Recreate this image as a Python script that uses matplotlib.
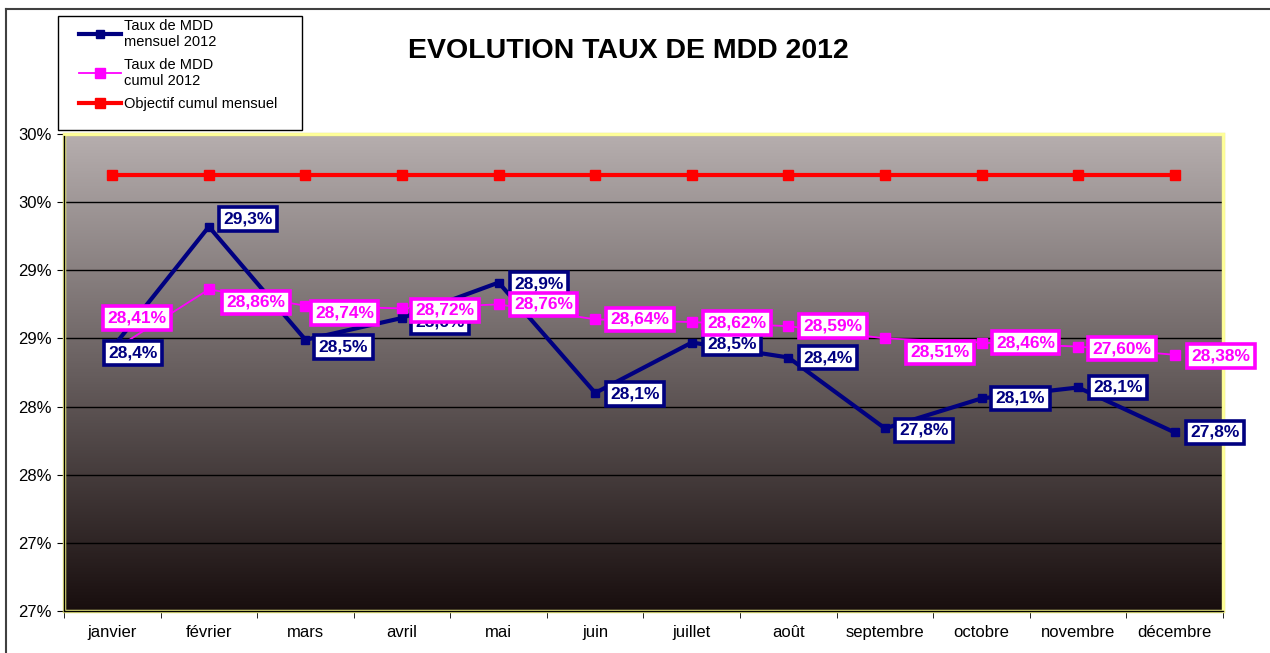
import numpy as np
import matplotlib
matplotlib.use("Agg")
import matplotlib.pyplot as plt
from matplotlib.lines import Line2D
from matplotlib.patches import Rectangle

plt.rcParams['font.family'] = ['Liberation Sans', 'DejaVu Sans']

months = ['janvier', 'février', 'mars', 'avril', 'mai', 'juin', 'juillet',
          'août', 'septembre', 'octobre', 'novembre', 'décembre']

# valeurs (en %)
mensuel = [28.43, 29.32, 28.49, 28.65, 28.91, 28.10, 28.47, 28.36, 27.84, 28.06, 28.14, 27.81]
mensuel_labels = ['28,4%', '29,3%', '28,5%', '28,6%', '28,9%', '28,1%', '28,5%', '28,4%',
                  '27,8%', '28,1%', '28,1%', '27,8%']
cumul = [28.41, 28.86, 28.74, 28.72, 28.75, 28.64, 28.62, 28.59, 28.50, 28.47, 28.44, 28.38]
cumul_labels = ['28,41%', '28,86%', '28,74%', '28,72%', '28,76%', '28,64%', '28,62%', '28,59%',
                '28,51%', '28,46%', '27,60%', '28,38%']
objectif = [29.7] * 12

yticks = [26.5, 27.0, 27.5, 28.0, 28.5, 29.0, 29.5, 30.0]
ytick_labels = ['27%', '27%', '28%', '28%', '29%', '29%', '30%', '30%']

# decalage des etiquettes (pixels, vers la droite / vers le bas)
off_mensuel = [(21, 5), (39, -8), (38, 7), (38, 4), (40, 1), (40, 1), (40, 1), (40, 0),
               (39, 2), (39, 0), (40, 0), (40, 0)]
off_cumul = [(25, -33), (47, 13), (39, 7), (43, 2), (45, 0), (45, 0), (45, 1), (45, 0),
             (55, 14), (44, 0), (44, 2), (46, 1)]

navy = '#000080'
pink = '#ff00ff'
red = '#ff0000'

W, H = 1270, 653
fig = plt.figure(figsize=(W / 100, H / 100), dpi=100)
ax = fig.add_axes([64 / W, (H - 611) / H, (1223 - 64) / W, (611 - 134) / H])

x = np.arange(len(months))
ax.set_xlim(-0.5, 11.5)
ax.set_ylim(26.5, 30.0)

# fond en degrade (clair en haut, sombre en bas)
top = np.array([182, 174, 174]) / 255
bot = np.array([24, 14, 14]) / 255
t = np.linspace(0, 1, 256)[:, None]
grad = (top * (1 - t) + bot * t)[:, None, :]
ax.imshow(grad, extent=[-0.5, 11.5, 26.5, 30.0], aspect='auto', zorder=0)

for yv in yticks[1:]:
    ax.axhline(yv, color='black', lw=1, zorder=1)

ax.plot(x, objectif, color=red, lw=3, marker='s', ms=6.5, zorder=3)
l1, = ax.plot(x, mensuel, color=navy, lw=3, marker='s', ms=6, zorder=3)
l2, = ax.plot(x, cumul, color=pink, lw=1.3, marker='s', ms=6.5, zorder=4)

for i in range(len(months)):
    dx, dy = off_mensuel[i]
    ax.annotate(mensuel_labels[i], (x[i], mensuel[i]), xytext=(dx * 0.72, -dy * 0.72),
                textcoords='offset points', ha='center', va='center', fontsize=12.5,
                fontweight='bold', color=navy, zorder=5, annotation_clip=False,
                bbox=dict(boxstyle='square,pad=0.25', fc='white', ec=navy, lw=2.6))
for i in range(len(months)):
    dx, dy = off_cumul[i]
    ax.annotate(cumul_labels[i], (x[i], cumul[i]), xytext=(dx * 0.72, -dy * 0.72),
                textcoords='offset points', ha='center', va='center', fontsize=12.5,
                fontweight='bold', color=pink, zorder=6, annotation_clip=False,
                bbox=dict(boxstyle='square,pad=0.25', fc='white', ec=pink, lw=2.6))

ax.set_yticks(yticks)
ax.set_yticklabels(ytick_labels, fontsize=12)
ax.set_xticks(x)
ax.set_xticklabels(months, fontsize=12)
ax.set_xticks(np.arange(-0.5, 12, 1), minor=True)
ax.tick_params(axis='x', which='major', length=0, pad=10)
ax.tick_params(axis='x', which='minor', length=5, direction='out', color='black')
ax.tick_params(axis='y', length=5, direction='out', pad=4)

for s in ['top', 'right']:
    ax.spines[s].set_color('#ffff99')
    ax.spines[s].set_linewidth(2)
for s in ['left', 'bottom']:
    ax.spines[s].set_color('black')
    ax.spines[s].set_linewidth(1)
ax.add_patch(Rectangle((0, 0), 1, 1, transform=ax.transAxes, fill=False,
                       ec='#e8e880', lw=2.5, zorder=2, clip_on=False))

# legende : cadre dessine a part
fig.add_artist(Rectangle((58 / W, 1 - 130 / H), 244 / W, 114 / H, transform=fig.transFigure,
                         fill=True, fc='white', ec='black', lw=1))
h_obj = Line2D([], [], color=red, lw=3, marker='s', ms=6.5)
fig.legend([l1, l2, h_obj], ['Taux de MDD\nmensuel 2012', 'Taux de MDD\ncumul 2012',
                             'Objectif cumul mensuel'],
           loc='upper left', bbox_to_anchor=(79 / W, 1 - 19 / H),
           fontsize=10.5, frameon=False, handlelength=2.9, handletextpad=0.2,
           borderpad=0, labelspacing=0.6, borderaxespad=0)

fig.text(628 / W, 1 - 51 / H, 'EVOLUTION TAUX DE MDD 2012', ha='center', va='center',
         fontsize=20.5, fontweight='bold')

# cadre du graphique
fig.add_artist(Line2D([6 / W, 1], [1 - 9 / H, 1 - 9 / H], color='#404040', lw=1.5))
fig.add_artist(Line2D([6 / W, 6 / W], [0, 1 - 9 / H], color='#404040', lw=1.5))

fig.savefig('out.png', dpi=100)
